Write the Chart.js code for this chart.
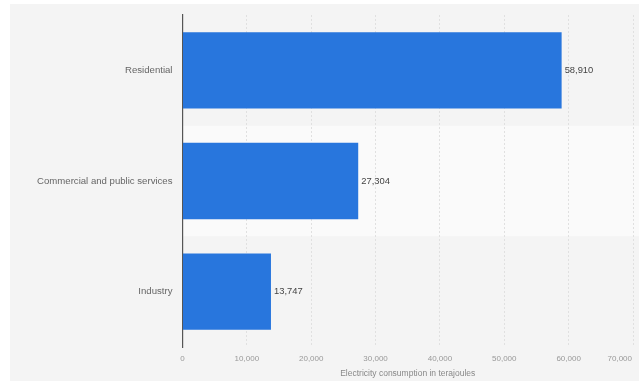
<!DOCTYPE html>
<html>
<head>
<meta charset="utf-8">
<script src="https://cdn.jsdelivr.net/npm/chart.js@4/dist/chart.umd.min.js"></script>
<style>
  body { margin: 0; background: #fff; }
  #wrap { width: 639px; height: 381px; }
</style>
</head>
<body>
<div id="wrap"><canvas id="elec" width="639" height="381"></canvas></div>
<script>
var sectors = ["Residential", "Commercial and public services", "Industry"];
var consumption = [58910, 27304, 13747];
var xTicks = [0, 10000, 20000, 30000, 40000, 50000, 60000, 70000];
var xTitle = "Electricity consumption in terajoules";

var FONT = "'Liberation Sans', Arial, sans-serif";

function fmt(v) {
    return v.toLocaleString("en-US");
}

// grey panel + lighter middle band
var bandsPlugin = {
    id: 'bands',
    beforeDraw: function (chart) {
        var ctx = chart.ctx;
        var area = chart.chartArea;
        var y = chart.scales.y;
        ctx.save();
        ctx.fillStyle = '#f4f4f4';
        ctx.fillRect(10, 4, chart.width - 10, chart.height - 4);
        var step = y.getPixelForValue(1) - y.getPixelForValue(0);
        var mid = y.getPixelForValue(1);
        ctx.fillStyle = '#fafafa';
        ctx.fillRect(area.left, mid - step / 2, chart.width - area.left, step);
        ctx.restore();
    }
};

// value labels, x tick labels and x title
var textPlugin = {
    id: 'texts',
    afterDatasetsDraw: function (chart) {
        var ctx = chart.ctx;
        var meta = chart.getDatasetMeta(0);
        var x = chart.scales.x;
        var area = chart.chartArea;
        ctx.save();
        ctx.font = '9.4px ' + FONT;
        ctx.fillStyle = '#444';
        ctx.textAlign = 'left';
        ctx.textBaseline = 'middle';
        meta.data.forEach(function (bar, i) {
            ctx.fillText(fmt(consumption[i]), bar.x + 3, bar.y);
        });

        ctx.font = '8px ' + FONT;
        ctx.fillStyle = '#999';
        xTicks.forEach(function (t) {
            var px = x.getPixelForValue(t);
            var w = ctx.measureText(fmt(t)).width;
            if (px + w / 2 > chart.width - 7) px = chart.width - 7 - w / 2;
            ctx.textAlign = 'center';
            ctx.fillText(fmt(t), px, area.bottom + 12);
        });

        ctx.font = '8.5px ' + FONT;
        ctx.fillStyle = '#888';
        ctx.fillText(xTitle, (area.left + area.right) / 2, area.bottom + 27);
        ctx.restore();
    }
};

new Chart(document.getElementById('elec'), {
    type: 'bar',
    data: {
        labels: sectors,
        datasets: [{
            data: consumption,
            backgroundColor: '#2876dd',
            categoryPercentage: 1,
            barPercentage: 0.69
        }]
    },
    options: {
        indexAxis: 'y',
        responsive: false,
        animation: false,
        layout: { padding: { left: 10, top: 15, right: 6, bottom: 0 } },
        plugins: {
            legend: { display: false },
            tooltip: { enabled: false }
        },
        scales: {
            x: {
                min: 0,
                max: 70000,
                ticks: { display: false, stepSize: 10000 },
                grid: {
                    drawTicks: false,
                    color: function (c) { return c.tick && c.tick.value === 0 ? 'rgba(0,0,0,0)' : '#e0e0e0'; },
                    lineWidth: 1
                },
                border: { display: false, dash: [2, 2] },
                afterFit: function (s) { s.height = 34; s.paddingLeft = 0; s.paddingRight = 0; }
            },
            y: {
                grid: { display: false, drawTicks: false },
                border: { display: true, color: '#555', width: 1.2 },
                ticks: {
                    padding: 10,
                    color: '#666',
                    font: { family: FONT, size: 9.6 }
                },
                afterFit: function (s) { s.width = 172.5; s.paddingTop = 0; s.paddingBottom = 0; }
            }
        }
    },
    plugins: [bandsPlugin, textPlugin]
});
</script>
</body>
</html>
